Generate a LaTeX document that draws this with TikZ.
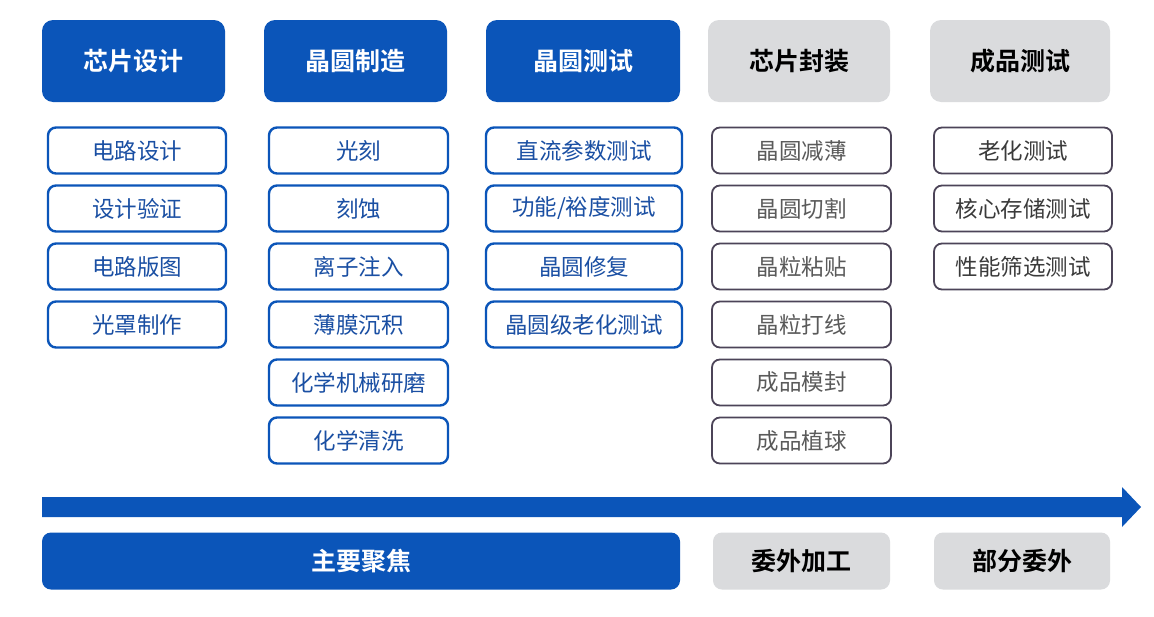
\documentclass[tikz,border=0pt]{standalone}
\usepackage{fontspec}
\newfontfamily\cjk{Noto Sans CJK SC}
\newfontfamily\cjkb{Noto Sans CJK SC Bold}
\definecolor{mblue}{HTML}{0B55B9}
\definecolor{tblue}{HTML}{1A4FA3}
\definecolor{mgray}{HTML}{DADBDD}
\definecolor{bgray}{HTML}{4C4458}
\definecolor{tgray}{HTML}{5A5A5A}
\definecolor{tdark}{HTML}{3A3A3A}
\begin{document}
\begin{tikzpicture}[x=1pt,y=-1pt,
  hdr/.style={rounded corners=11pt, minimum height=82pt, inner sep=0pt, font=\cjkb\fontsize{25}{25}\selectfont},
  hblue/.style={hdr, fill=mblue, text=white},
  hgray/.style={hdr, fill=mgray, text=black},
  sub/.style={rounded corners=8pt, minimum height=46pt, minimum width=178pt, inner sep=0pt, font=\cjk\fontsize{22.5}{22.5}\selectfont},
  sblue/.style={sub, draw=mblue, line width=2.4pt, fill=white, text=tblue},
  sgray/.style={sub, draw=bgray, line width=1.8pt, fill=white, text=tgray},
  sgray2/.style={sub, draw=bgray, line width=1.8pt, fill=white, text=tdark},
  bot/.style={rounded corners=9pt, minimum height=57pt, inner sep=0pt, font=\cjkb\fontsize{25}{25}\selectfont},
]
\useasboundingbox (0,0) rectangle (1154,616);
\fill[white] (0,0) rectangle (1154,616);
% headers
\node[hblue, minimum width=183pt] (h1) at (133.5,61) {芯片设计};
\node[hblue, minimum width=183pt] (h2) at (355.5,61) {晶圆制造};
\node[hblue, minimum width=194pt] (h3) at (583,61) {晶圆测试};
\node[hgray, minimum width=182pt] (h4) at (799,61) {芯片封装};
\node[hgray, minimum width=180pt] (h5) at (1020,61) {成品测试};
% column 1
\node[sblue] (a1) at (137,150.5) {电路设计};
\node[sblue] (a2) at (137,208.5) {设计验证};
\node[sblue] (a3) at (137,266.5) {电路版图};
\node[sblue] (a4) at (137,324.5) {光罩制作};
% column 2
\node[sblue, minimum width=179pt] (b1) at (358.5,150.5) {光刻};
\node[sblue, minimum width=179pt] (b2) at (358.5,208.5) {刻蚀};
\node[sblue, minimum width=179pt] (b3) at (358.5,266.5) {离子注入};
\node[sblue, minimum width=179pt] (b4) at (358.5,324.5) {薄膜沉积};
\node[sblue, minimum width=179pt] (b5) at (358.5,382.5) {化学机械研磨};
\node[sblue, minimum width=179pt] (b6) at (358.5,440.5) {化学清洗};
% column 3
\node[sblue, minimum width=196pt] (c1) at (584,150.5) {直流参数测试};
\node[sblue, minimum width=196pt] (c2) at (584,208.5) {功能/裕度测试};
\node[sblue, minimum width=196pt] (c3) at (584,266.5) {晶圆修复};
\node[sblue, minimum width=196pt] (c4) at (584,324.5) {晶圆级老化测试};
% column 4
\node[sgray, minimum width=179pt] (d1) at (801.5,150.5) {晶圆减薄};
\node[sgray, minimum width=179pt] (d2) at (801.5,208.5) {晶圆切割};
\node[sgray, minimum width=179pt] (d3) at (801.5,266.5) {晶粒粘贴};
\node[sgray, minimum width=179pt] (d4) at (801.5,324.5) {晶粒打线};
\node[sgray, minimum width=179pt] (d5) at (801.5,382.5) {成品模封};
\node[sgray, minimum width=179pt] (d6) at (801.5,440.5) {成品植球};
% column 5
\node[sgray2] (e1) at (1023,150.5) {老化测试};
\node[sgray2] (e2) at (1023,208.5) {核心存储测试};
\node[sgray2] (e3) at (1023,266.5) {性能筛选测试};
% arrow
\fill[mblue] (42,497) -- (1122,497) -- (1122,487) -- (1141,507) -- (1122,527) -- (1122,517) -- (42,517) -- cycle;
% bottom
\node[bot, fill=mblue, text=white, minimum width=638pt] (f1) at (361,561) {主要聚焦};
\node[bot, fill=mgray, text=black, minimum width=177pt] (f2) at (801.5,561) {委外加工};
\node[bot, fill=mgray, text=black, minimum width=176pt] (f3) at (1022,561) {部分委外};
\end{tikzpicture}
\end{document}
